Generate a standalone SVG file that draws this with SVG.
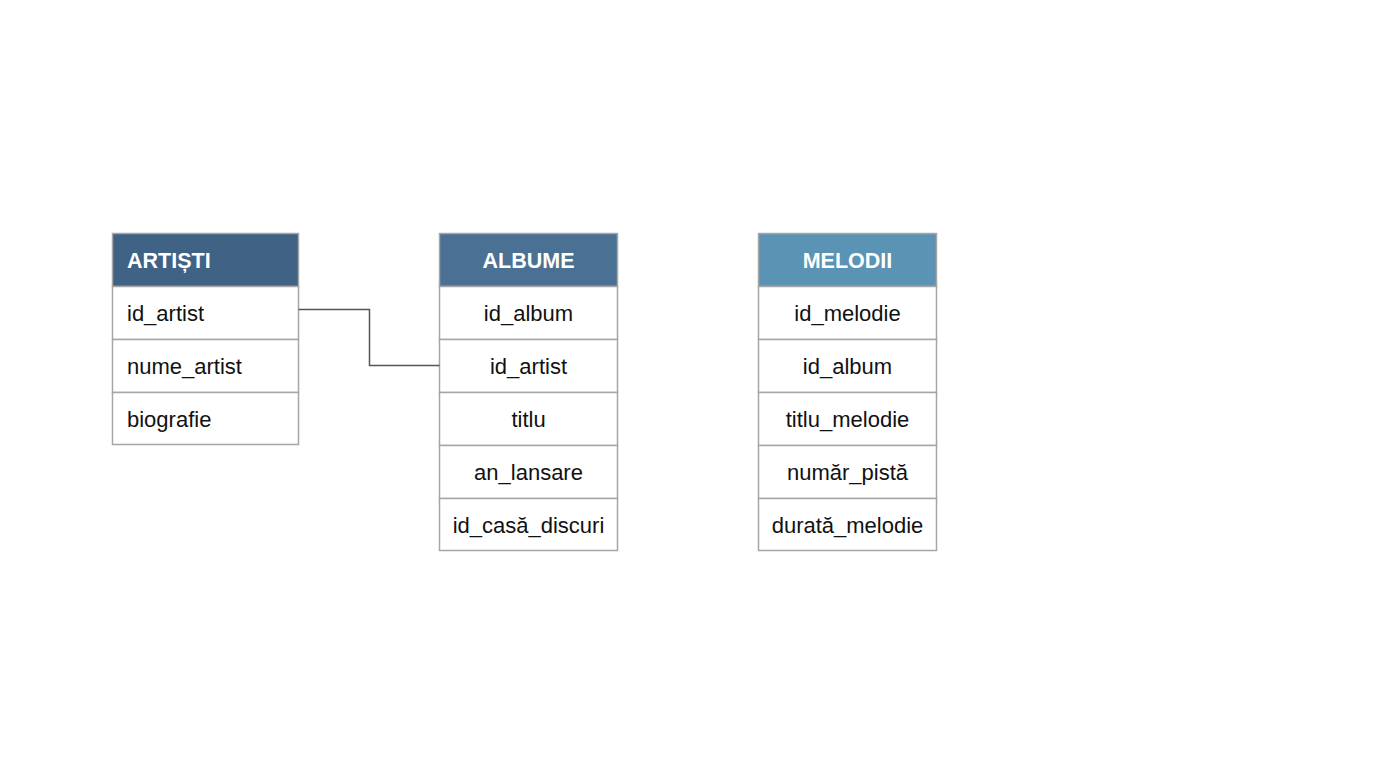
<svg xmlns="http://www.w3.org/2000/svg" width="1376" height="768" viewBox="0 0 1376 768">
<style>
.cell{fill:#ffffff;stroke:#a6a6a6;stroke-width:1.5}
.hdr{stroke:#a6a6a6;stroke-width:1.5}
.ht{font-family:"Liberation Sans",Arial,sans-serif;font-size:21.5px;font-weight:bold;fill:#ffffff}
.t{font-family:"Liberation Sans",Arial,sans-serif;font-size:22px;fill:#111111}
.c{text-anchor:middle}
.conn{fill:none;stroke:#555555;stroke-width:1.5}
</style>
<rect width="1376" height="768" fill="#ffffff"/>
<g id="artisti">
<rect class="hdr" x="112.5" y="233.5" width="186" height="53" fill="#3f6285"/>
<rect class="cell" x="112.5" y="286.5" width="186" height="53"/>
<rect class="cell" x="112.5" y="339.5" width="186" height="53"/>
<rect class="cell" x="112.5" y="392.5" width="186" height="52"/>
<text class="ht" x="127" y="268">ARTIȘTI</text>
<text class="t" x="127" y="321">id_artist</text>
<text class="t" x="127" y="374">nume_artist</text>
<text class="t" x="127" y="427">biografie</text>
</g>
<g id="albume">
<rect class="hdr" x="439.5" y="233.5" width="178" height="53" fill="#4a7194"/>
<rect class="cell" x="439.5" y="286.5" width="178" height="53"/>
<rect class="cell" x="439.5" y="339.5" width="178" height="53"/>
<rect class="cell" x="439.5" y="392.5" width="178" height="53"/>
<rect class="cell" x="439.5" y="445.5" width="178" height="53"/>
<rect class="cell" x="439.5" y="498.5" width="178" height="52"/>
<text class="ht c" x="528.5" y="268">ALBUME</text>
<text class="t c" x="528.5" y="321">id_album</text>
<text class="t c" x="528.5" y="374">id_artist</text>
<text class="t c" x="528.5" y="427">titlu</text>
<text class="t c" x="528.5" y="480">an_lansare</text>
<text class="t c" x="528.5" y="533">id_casă_discuri</text>
</g>
<g id="melodii">
<rect class="hdr" x="758.5" y="233.5" width="178" height="53" fill="#5a93b4"/>
<rect class="cell" x="758.5" y="286.5" width="178" height="53"/>
<rect class="cell" x="758.5" y="339.5" width="178" height="53"/>
<rect class="cell" x="758.5" y="392.5" width="178" height="53"/>
<rect class="cell" x="758.5" y="445.5" width="178" height="53"/>
<rect class="cell" x="758.5" y="498.5" width="178" height="52"/>
<text class="ht c" x="847.5" y="268">MELODII</text>
<text class="t c" x="847.5" y="321">id_melodie</text>
<text class="t c" x="847.5" y="374">id_album</text>
<text class="t c" x="847.5" y="427">titlu_melodie</text>
<text class="t c" x="847.5" y="480">număr_pistă</text>
<text class="t c" x="847.5" y="533">durată_melodie</text>
</g>
<g id="connectors">
<path class="conn" d="M298.5,309.5 H369.5 V365.5 H439.5"/>
</g>
</svg>
